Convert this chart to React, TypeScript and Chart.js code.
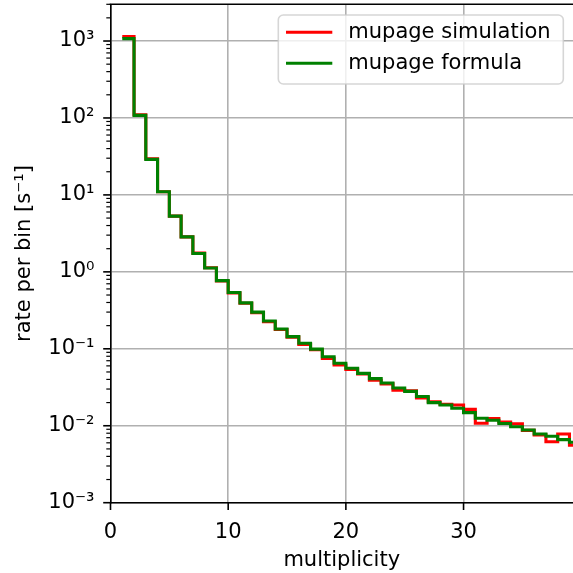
import React, { useEffect, useRef } from 'react';
import { Chart, registerables } from 'chart.js';

Chart.register(...registerables);

// ---- data ----
const multiplicity = [1, 2, 3, 4, 5, 6, 7, 8, 9, 10, 11, 12, 13, 14, 15, 16, 17, 18, 19, 20,
  21, 22, 23, 24, 25, 26, 27, 28, 29, 30, 31, 32, 33, 34, 35, 36, 37, 38, 39];

const simulationRate = [1140, 110, 29.5, 11.0, 5.3, 2.85, 1.75, 1.13, 0.76, 0.53,
  0.39, 0.295, 0.225, 0.178, 0.142, 0.114, 0.097, 0.075, 0.0615, 0.054,
  0.047, 0.039, 0.035, 0.029, 0.0285, 0.023, 0.0205, 0.019, 0.0186, 0.0163,
  0.0108, 0.0124, 0.0112, 0.0106, 0.0087, 0.0076, 0.0062, 0.0078, 0.0056];

const formulaRate = [1075, 108, 29, 11.0, 5.3, 2.85, 1.73, 1.12, 0.77, 0.54,
  0.395, 0.30, 0.23, 0.181, 0.144, 0.118, 0.099, 0.079, 0.065, 0.056,
  0.048, 0.041, 0.036, 0.031, 0.028, 0.024, 0.020, 0.0186, 0.0169, 0.0148,
  0.0125, 0.0118, 0.0107, 0.0097, 0.0088, 0.0078, 0.0073, 0.0066, 0.0061];

const seriesNames = ['mupage simulation', 'mupage formula'];
const seriesColors = ['#ff0000', '#008000'];

const xTickValues = [0, 10, 20, 30];
const xMin = 0;
const xMax = 39.3;
const yMin = 1e-3;
const yMax = 3000;
const yMajorTicks = [1e-3, 1e-2, 1e-1, 1, 10, 100, 1000];
const yTickLabels = ['10⁻³', '10⁻²', '10⁻¹', '10⁰', '10¹', '10²', '10³'];
const xTitle = 'multiplicity';
const yTitle = 'rate per bin [s⁻¹]';

const FONT = '"DejaVu Sans", "Liberation Sans", sans-serif';
const FS = 21;

function toSteps(values: number[]) {
  const pts = multiplicity.map((m, i) => ({ x: m, y: values[i] }));
  pts.push({ x: multiplicity[multiplicity.length - 1] + 1, y: values[values.length - 1] });
  return pts;
}

const decorPlugin = {
  id: 'decor',
  afterDraw(chart: any) {
    const { ctx, chartArea } = chart;
    const xs = chart.scales.x;
    const ys = chart.scales.y;
    ctx.save();
    ctx.strokeStyle = '#000';
    // top spine
    ctx.lineWidth = 1.6;
    ctx.beginPath();
    ctx.moveTo(chartArea.left - 0.8, chartArea.top);
    ctx.lineTo(chartArea.right + 1, chartArea.top);
    ctx.stroke();
    // y major ticks
    ctx.lineWidth = 1.6;
    for (const v of yMajorTicks) {
      const py = ys.getPixelForValue(v);
      ctx.beginPath();
      ctx.moveTo(chartArea.left - 7.3, py);
      ctx.lineTo(chartArea.left, py);
      ctx.stroke();
    }
    // y minor ticks
    ctx.lineWidth = 1.2;
    for (let d = -3; d <= 3; d++) {
      for (let m = 2; m <= 9; m++) {
        const v = m * Math.pow(10, d);
        if (v < yMin || v > yMax) continue;
        const py = ys.getPixelForValue(v);
        ctx.beginPath();
        ctx.moveTo(chartArea.left - 4.2, py);
        ctx.lineTo(chartArea.left, py);
        ctx.stroke();
      }
    }
    // x major ticks
    ctx.lineWidth = 1.6;
    for (const v of xTickValues) {
      const px = xs.getPixelForValue(v);
      ctx.beginPath();
      ctx.moveTo(px, chartArea.bottom);
      ctx.lineTo(px, chartArea.bottom + 7.3);
      ctx.stroke();
    }
    // legend
    const bx = 278.3, by = 15, bw = 285, bh = 69;
    ctx.beginPath();
    (ctx as any).roundRect(bx, by, bw, bh, 5);
    ctx.fillStyle = 'rgba(255,255,255,0.8)';
    ctx.fill();
    ctx.strokeStyle = 'rgba(204,204,204,0.8)';
    ctx.lineWidth = 1.6;
    ctx.stroke();
    const rows = [32.3, 63.3];
    chart.data.datasets
      .slice()
      .sort((a: any, b: any) => a.legendIndex - b.legendIndex)
      .forEach((ds: any, i: number) => {
        const ly = rows[i];
        ctx.strokeStyle = ds.borderColor;
        ctx.lineWidth = 3.1;
        ctx.beginPath();
        ctx.moveTo(286, ly);
        ctx.lineTo(332.3, ly);
        ctx.stroke();
        ctx.fillStyle = '#000';
        ctx.font = `${FS}px ${FONT}`;
        ctx.textBaseline = 'alphabetic';
        ctx.textAlign = 'left';
        ctx.fillText(ds.label, 348.3, ly + 5.8);
      });
    ctx.restore();
  },
};

export default function App() {
  const ref = useRef<HTMLCanvasElement>(null);
  useEffect(() => {
    if (!ref.current) return;
    const chart = new Chart(ref.current, {
      type: 'line',
      data: {
        datasets: [
          {
            label: seriesNames[1],
            data: toSteps(formulaRate),
            borderColor: seriesColors[1],
            backgroundColor: seriesColors[1],
            borderWidth: 3.1,
            pointRadius: 0,
            stepped: 'before',
            order: 0,
            legendIndex: 1,
          } as any,
          {
            label: seriesNames[0],
            data: toSteps(simulationRate),
            borderColor: seriesColors[0],
            backgroundColor: seriesColors[0],
            borderWidth: 3.1,
            pointRadius: 0,
            stepped: 'before',
            order: 1,
            legendIndex: 0,
          } as any,
        ],
      },
      options: {
        animation: false,
        responsive: false,
        devicePixelRatio: 1,
        layout: { padding: { top: 4.3, right: 0, left: 0, bottom: 0 } },
        plugins: { legend: { display: false }, tooltip: { enabled: false } },
        scales: {
          x: {
            type: 'linear',
            min: xMin,
            max: xMax,
            afterBuildTicks: (s: any) => {
              s.ticks = xTickValues.map((v) => ({ value: v }));
            },
            afterFit: (s: any) => {
              s.height = 70.3;
              s.paddingLeft = 0;
              s.paddingRight = 0;
            },
            ticks: {
              font: { family: FONT, size: FS },
              color: '#000',
              padding: 17,
              maxRotation: 0,
              callback: (v: any) => String(v),
            },
            grid: { color: '#b0b0b0', lineWidth: 1.6, drawTicks: false },
            border: { display: true, color: '#000', width: 1.6 },
            title: {
              display: true,
              text: xTitle,
              font: { family: FONT, size: FS },
              color: '#000',
              padding: { top: 0, bottom: 0 },
            },
          },
          y: {
            type: 'logarithmic',
            min: yMin,
            max: yMax,
            afterBuildTicks: (s: any) => {
              s.ticks = yMajorTicks.map((v) => ({ value: v }));
            },
            afterFit: (s: any) => {
              s.width = 110.5;
              s.paddingTop = 0;
              s.paddingBottom = 0;
            },
            ticks: {
              font: { family: FONT, size: FS },
              color: '#000',
              padding: 16,
              callback: (v: any) => {
                const i = yMajorTicks.findIndex((t) => Math.abs(Math.log10(t) - Math.log10(v)) < 1e-6);
                return i >= 0 ? yTickLabels[i] : '';
              },
            },
            grid: { color: '#b0b0b0', lineWidth: 1.6, drawTicks: false },
            border: { display: true, color: '#000', width: 1.6 },
            title: {
              display: true,
              text: yTitle,
              font: { family: FONT, size: FS },
              color: '#000',
              padding: { top: 12, bottom: 0 },
            },
          },
        },
      },
      plugins: [decorPlugin],
    });
    return () => chart.destroy();
  }, []);
  return (
    <div style={{ position: 'absolute', left: 0, top: 0, width: 573, height: 573 }}>
      <canvas ref={ref} width={573} height={573} style={{ display: 'block' }} />
    </div>
  );
}
